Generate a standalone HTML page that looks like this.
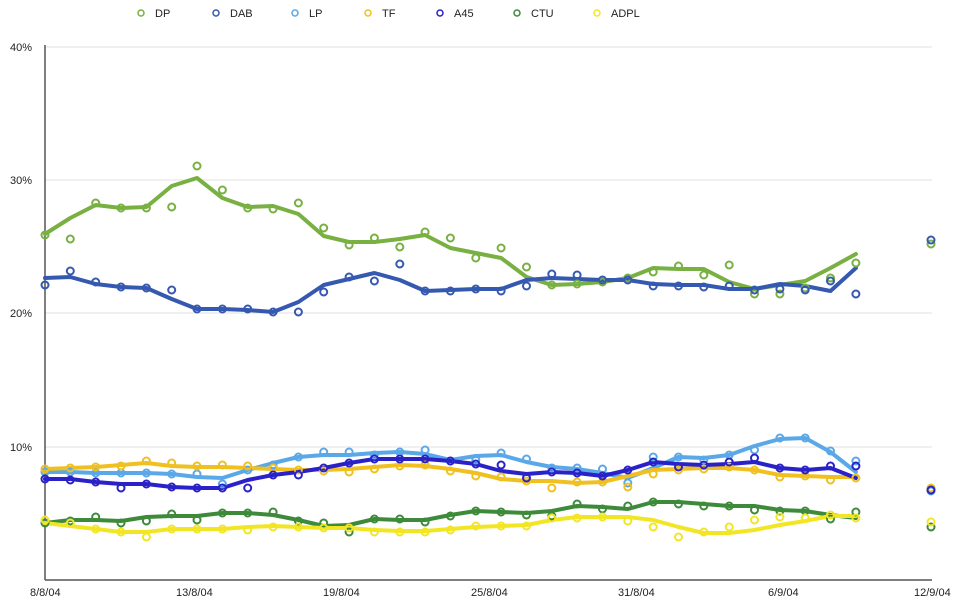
<!DOCTYPE html>
<html><head><meta charset="utf-8"><style>
body{margin:0;background:#fff;width:960px;height:603px;overflow:hidden;font-family:"Liberation Sans",sans-serif}
svg text{font-family:"Liberation Sans",sans-serif;font-size:11px;fill:#222}
</style></head><body>
<svg id="c" width="960" height="603" xmlns="http://www.w3.org/2000/svg">
<g stroke="#e2e2e2" stroke-width="1">
<line x1="45" y1="47" x2="932" y2="47"/><line x1="45" y1="180" x2="932" y2="180"/>
<line x1="45" y1="313" x2="932" y2="313"/><line x1="45" y1="447" x2="932" y2="447"/>
</g>
<line x1="45" y1="45" x2="45" y2="580" stroke="#555" stroke-width="1.5"/>
<line x1="45" y1="580" x2="932" y2="580" stroke="#555" stroke-width="1.5"/>
<text x="10" y="51">40%</text><text x="10" y="184">30%</text><text x="10" y="317">20%</text><text x="10" y="451">10%</text>
<text x="30" y="596">8/8/04</text><text x="176" y="596">13/8/04</text><text x="323" y="596">19/8/04</text><text x="471" y="596">25/8/04</text><text x="618" y="596">31/8/04</text><text x="768" y="596">6/9/04</text><text x="914" y="596">12/9/04</text>
<g id="leg"></g>
<g id="data"></g>
</svg>
<script>
var xs=[];for(var i=0;i<33;i++)xs.push(45+i*25.34);
var S=[
["DP","#78b042",[234,218,205,208,207,186,178,198,207,206,214,236,242,242,239,235,248,253,258,277,285,284,282,278,268,269,269,282,289,285,281,268,254],
[235,239,203,208,208,207,166,190,208,209,203,228,245,238,247,232,238,258,248,267,285,284,282,278,272,266,275,265,294,294,288,278,263],244],
["DAB","#3558b0",[278,277,284,287,288,299,309,309,310,312,302,285,279,273,280,291,290,289,289,280,278,279,280,280,284,285,285,289,289,284,286,291,268],
[285,271,282,287,288,290,309,309,309,312,312,292,277,281,264,291,291,289,291,286,274,275,280,280,286,286,287,286,290,289,290,281,294],240],
["LP","#5aa8e8",[472,472,473,473,473,474,477,478,470,463,457,455,455,453,452,454,460,456,455,462,467,469,473,478,468,457,458,455,446,439,438,452,472],
[472,472,473,473,473,474,474,484,470,465,457,452,452,455,452,450,461,460,453,459,468,468,469,483,457,457,460,455,450,438,438,451,461],491],
["TF","#f0c020",[469,468,467,465,463,466,467,467,468,469,470,470,469,467,465,466,469,473,479,481,481,483,482,476,470,469,468,468,470,475,476,477,477],
[469,468,467,466,461,463,466,465,466,468,470,471,472,469,466,465,471,476,477,481,488,482,482,487,474,470,469,467,470,477,476,480,478],488],
["A45","#2a22c8",[479,479,482,484,484,487,488,488,480,475,472,468,463,459,459,459,461,464,471,474,472,473,476,470,462,464,465,464,462,468,470,468,478],
[479,480,482,488,484,487,488,488,488,475,475,468,463,459,459,459,461,464,465,478,472,473,476,470,462,467,465,462,458,468,470,466,466],490],
["CTU","#3d8a3a",[523,520,520,521,517,516,516,513,513,515,520,526,525,519,520,520,515,511,512,513,511,506,507,509,502,502,504,506,506,510,511,515,518],
[523,521,517,523,521,514,520,513,513,512,521,523,532,519,519,522,516,511,512,515,516,504,509,506,502,504,506,506,510,511,511,519,512],527],
["ADPL","#f2e624",[523,526,529,532,532,529,529,529,527,526,527,528,528,530,531,531,529,527,526,525,520,517,517,517,520,527,533,533,530,525,521,516,516],
[520,523,529,532,537,529,529,529,530,527,527,528,528,532,532,532,530,526,526,526,518,518,517,521,527,537,532,527,520,517,518,515,518],522]
];
var lx=[141,216,295,368,440,517,597];
var h='',lg='';
S.forEach(function(s,k){
 var p=s[2].map(function(y,i){return xs[i].toFixed(1)+','+y}).join(' ');
 h+='<polyline points="'+p+'" fill="none" stroke="'+s[1]+'" stroke-width="4" stroke-linejoin="round" stroke-linecap="round"/>';
 lg+='<circle cx="'+lx[k]+'" cy="13" r="3" fill="#fff" stroke="'+s[1]+'" stroke-width="1.5"/><text x="'+(lx[k]+14)+'" y="17">'+s[0]+'</text>';
});
S.forEach(function(s){
 s[3].forEach(function(y,i){h+='<circle cx="'+xs[i].toFixed(1)+'" cy="'+y+'" r="3.5" fill="none" stroke="'+s[1]+'" stroke-width="2"/>';});
 h+='<circle cx="931" cy="'+s[4]+'" r="3.5" fill="none" stroke="'+s[1]+'" stroke-width="2"/>';
});
document.getElementById('data').innerHTML=h;
document.getElementById('leg').innerHTML=lg;
</script>
</body></html>
